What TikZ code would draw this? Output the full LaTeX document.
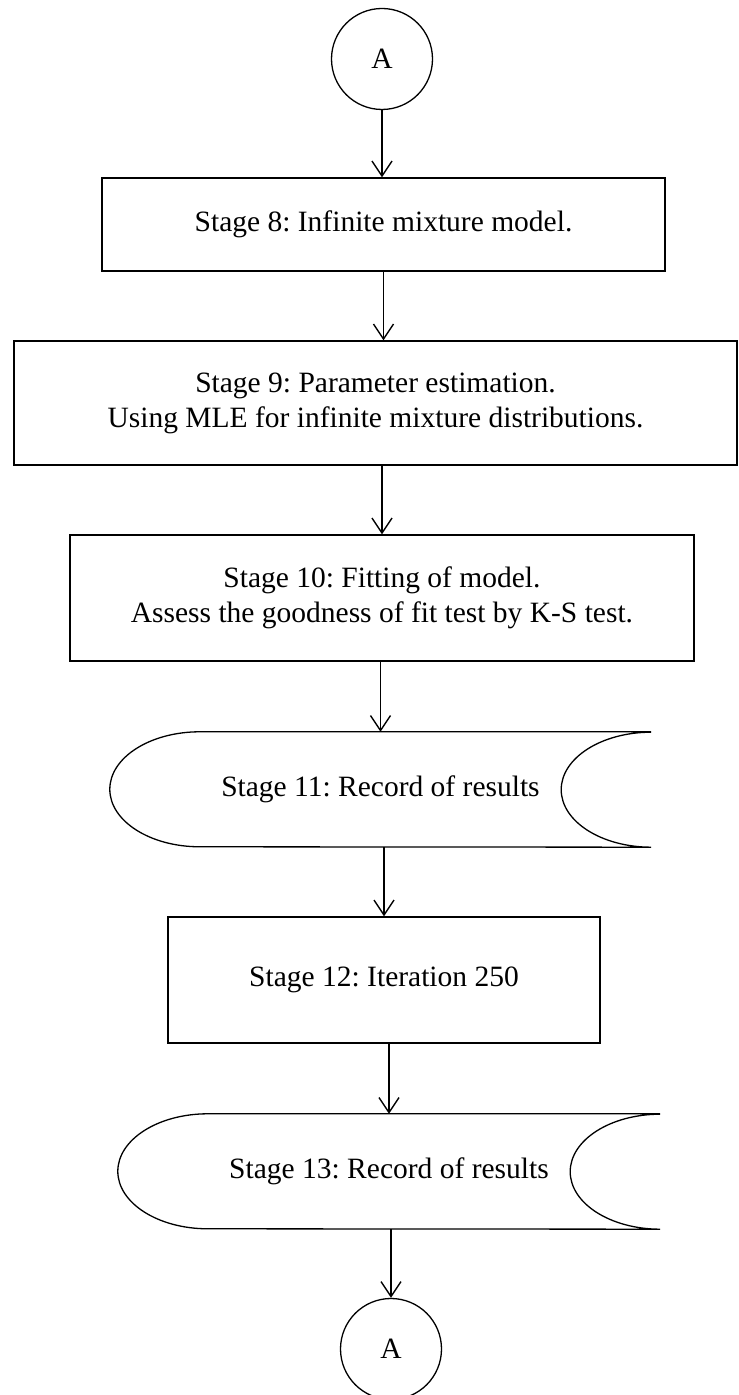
\documentclass[tikz,border=0pt]{standalone}
\usepackage{fontspec}
\setmainfont{Liberation Serif}
\usetikzlibrary{arrows.meta}
\frenchspacing
\begin{document}
\begin{tikzpicture}[x=1pt,y=1pt,
  every node/.style={font=\fontsize{29.5}{35}\selectfont\frenchspacing, align=center, inner sep=0pt},
  boxnode/.style={draw, line width=1.3pt, rectangle},
  connnode/.style={draw, line width=1.3pt, circle, minimum size=101pt},
  stornode/.style={minimum width=541pt, minimum height=115pt},
  storline/.style={line width=1.3pt},
  arr/.style={line width=1.4pt, -{Straight Barb[length=15pt,width=20pt,line width=1.4pt]}}
]
\useasboundingbox (0,0) rectangle (739,1395);

\node[connnode] (a1) at (382,1336) {A};
\node[boxnode, minimum width=563pt, minimum height=93pt] (b8) at (383.5,1170.5) {Stage 8: Infinite mixture model.};
\node[boxnode, minimum width=723pt, minimum height=124pt] (b9) at (375.5,992) {Stage 9: Parameter estimation.\\Using MLE for infinite mixture distributions.};
\node[boxnode, minimum width=624pt, minimum height=126pt] (b10) at (382,797) {Stage 10: Fitting of model.\\Assess the goodness of fit test by K-S test.};
\node[stornode] (s11) at (380.5,605.5) {Stage 11: Record of results};
\node[boxnode, minimum width=432pt, minimum height=126pt] (b12) at (384,415) {Stage 12: Iteration 250};
\node[stornode, minimum width=542pt] (s13) at (389,223.5) {Stage 13: Record of results};
\node[connnode] (a2) at (391,46) {A};

% stored data outlines
\draw[storline] (s11.north east) -- ([xshift=90pt]s11.north west)
  arc[start angle=90, end angle=270, x radius=90pt, y radius=57.5pt]
  -- (s11.south east)
  arc[start angle=270, end angle=90, x radius=90pt, y radius=57.5pt];
\draw[storline] (s13.north east) -- ([xshift=90pt]s13.north west)
  arc[start angle=90, end angle=270, x radius=90pt, y radius=57.5pt]
  -- (s13.south east)
  arc[start angle=270, end angle=90, x radius=90pt, y radius=57.5pt];

% connectors
\draw[arr] (a1.south) -- (a1.south |- b8.north);
\draw[arr] (b8.south) -- (b8.south |- b9.north);
\draw[arr] (b10.north |- b9.south) -- (b10.north);
\draw[arr] (s11.north |- b10.south) -- (s11.north);
\draw[arr] (b12.north |- s11.south) -- (b12.north);
\draw[arr] (s13.north |- b12.south) -- (s13.north);
\draw[arr] (a2.north |- s13.south) -- (a2.north);
\end{tikzpicture}
\end{document}
